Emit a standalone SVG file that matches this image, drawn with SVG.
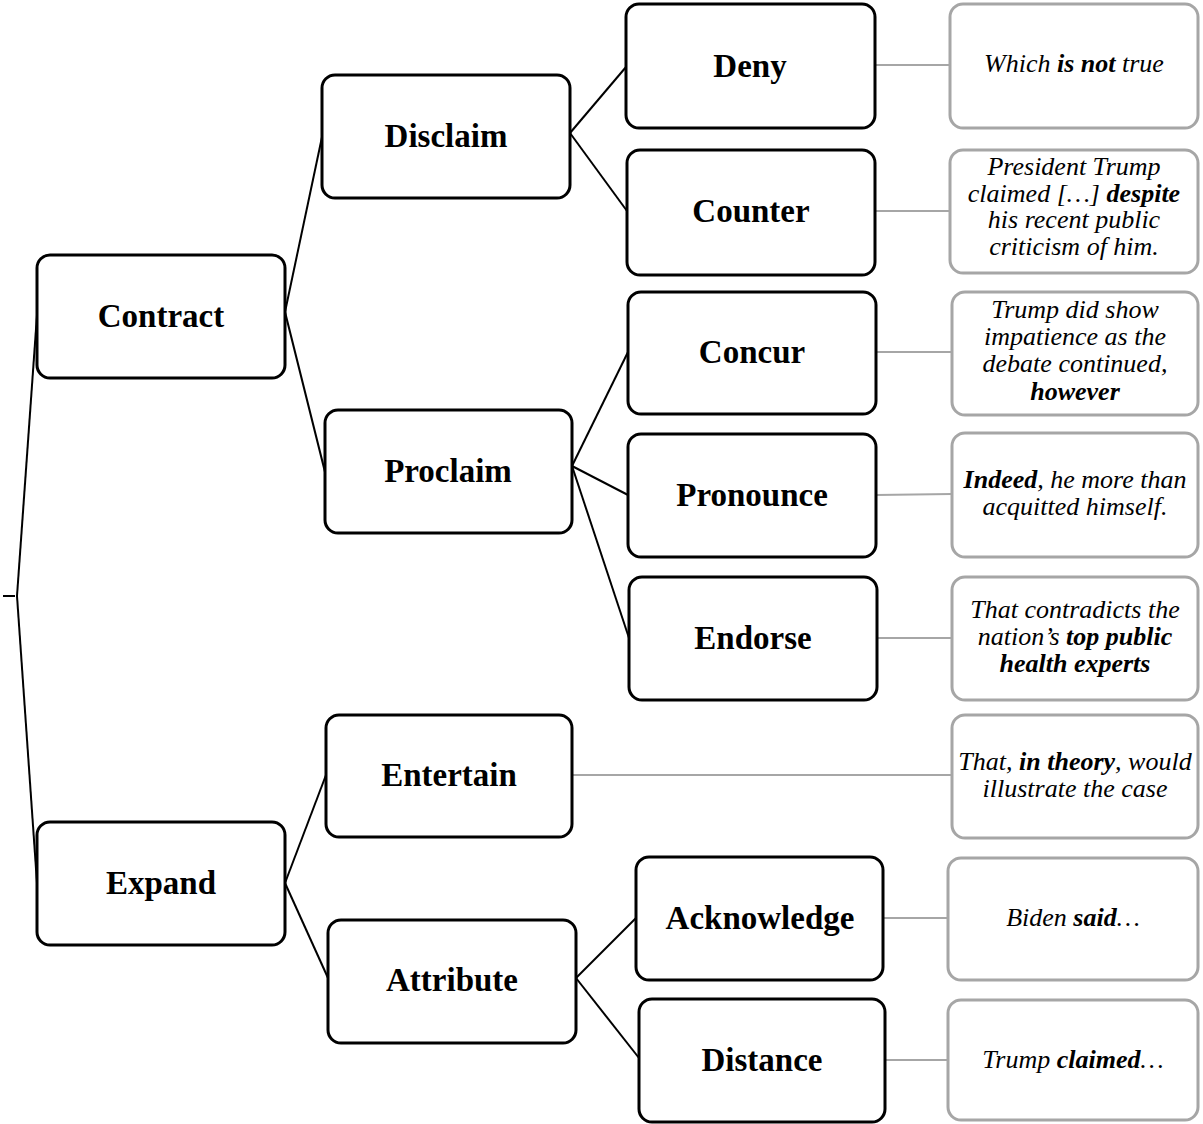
<svg xmlns="http://www.w3.org/2000/svg" width="1203" height="1124" viewBox="0 0 1203 1124">
  <style>
    .node rect { fill: #ffffff; stroke: #000000; stroke-width: 3; }
    .node text { font-family: "Liberation Serif", "Times New Roman", serif; font-weight: bold; font-size: 33px; fill: #000000; text-anchor: middle; }
    .ex rect { fill: #ffffff; stroke: #a6a6a6; stroke-width: 3; }
    .ex text { font-family: "Liberation Serif", "Times New Roman", serif; font-style: italic; font-size: 26px; fill: #000000; text-anchor: middle; }
    .ex tspan.b { font-weight: bold; }
    .tree line { stroke: #000000; stroke-width: 2; }
    .links line { stroke: #a6a6a6; stroke-width: 2; }
  </style>

  <!-- tree connectors -->
  <g id="connectors">
    <g class="tree">
      <line x1="3" y1="596" x2="15" y2="596"/>
      <line x1="17" y1="596" x2="37" y2="315"/>
      <line x1="17" y1="596" x2="37" y2="883"/>
      <line x1="285" y1="312" x2="322" y2="137"/>
      <line x1="285" y1="312" x2="325" y2="472"/>
      <line x1="570" y1="133" x2="626" y2="67"/>
      <line x1="570" y1="133" x2="627" y2="211"/>
      <line x1="572" y1="466" x2="628" y2="352"/>
      <line x1="572" y1="466" x2="628" y2="495"/>
      <line x1="572" y1="466" x2="629" y2="638"/>
      <line x1="285" y1="883" x2="326" y2="775"/>
      <line x1="285" y1="883" x2="328" y2="978"/>
      <line x1="576" y1="978" x2="636" y2="918"/>
      <line x1="576" y1="978" x2="639" y2="1058"/>
    </g>
    <g class="links">
      <line x1="875" y1="65" x2="950" y2="65"/>
      <line x1="875" y1="211" x2="950" y2="211"/>
      <line x1="876" y1="352" x2="952" y2="352"/>
      <line x1="876" y1="495" x2="952" y2="494"/>
      <line x1="877" y1="638" x2="952" y2="638"/>
      <line x1="572" y1="775" x2="952" y2="775"/>
      <line x1="883" y1="918" x2="948" y2="918"/>
      <line x1="885" y1="1060" x2="948" y2="1060"/>
    </g>
  </g>

  <!-- category nodes -->
  <g id="contract" class="node"><rect x="37" y="255" width="248" height="123" rx="13"/><text x="161" y="327">Contract</text></g>
  <g id="expand" class="node"><rect x="37" y="822" width="248" height="123" rx="13"/><text x="161" y="894">Expand</text></g>
  <g id="disclaim" class="node"><rect x="322" y="75" width="248" height="123" rx="13"/><text x="446" y="147">Disclaim</text></g>
  <g id="proclaim" class="node"><rect x="325" y="410" width="247" height="123" rx="13"/><text x="448" y="482">Proclaim</text></g>
  <g id="entertain" class="node"><rect x="326" y="715" width="246" height="122" rx="13"/><text x="449" y="786">Entertain</text></g>
  <g id="attribute" class="node"><rect x="328" y="920" width="248" height="123" rx="13"/><text x="452" y="991">Attribute</text></g>
  <g id="deny" class="node"><rect x="626" y="4" width="249" height="124" rx="13"/><text x="750" y="77">Deny</text></g>
  <g id="counter" class="node"><rect x="627" y="150" width="248" height="125" rx="13"/><text x="751" y="222">Counter</text></g>
  <g id="concur" class="node"><rect x="628" y="292" width="248" height="122" rx="13"/><text x="752" y="363">Concur</text></g>
  <g id="pronounce" class="node"><rect x="628" y="434" width="248" height="123" rx="13"/><text x="752" y="506">Pronounce</text></g>
  <g id="endorse" class="node"><rect x="629" y="577" width="248" height="123" rx="13"/><text x="753" y="649">Endorse</text></g>
  <g id="acknowledge" class="node"><rect x="636" y="857" width="247" height="123" rx="13"/><text x="760" y="929">Acknowledge</text></g>
  <g id="distance" class="node"><rect x="639" y="999" width="246" height="123" rx="13"/><text x="762" y="1071">Distance</text></g>

  <!-- example boxes -->
  <g id="ex-deny" class="ex"><rect x="950" y="4" width="248" height="124" rx="13"/>
    <text x="1074" y="72">Which <tspan class="b">is not</tspan> true</text></g>
  <g id="ex-counter" class="ex"><rect x="950" y="150" width="248" height="123" rx="13"/>
    <text x="1074" y="175">President Trump</text>
    <text x="1074" y="202">claimed […] <tspan class="b">despite</tspan></text>
    <text x="1074" y="228">his recent public</text>
    <text x="1074" y="255">criticism of him.</text></g>
  <g id="ex-concur" class="ex"><rect x="952" y="292" width="246" height="123" rx="13"/>
    <text x="1075" y="318">Trump did show</text>
    <text x="1075" y="345">impatience as the</text>
    <text x="1075" y="372">debate continued,</text>
    <text x="1075" y="400"><tspan class="b">however</tspan></text></g>
  <g id="ex-pronounce" class="ex"><rect x="952" y="433" width="246" height="124" rx="13"/>
    <text x="1075" y="488"><tspan class="b">Indeed</tspan>, he more than</text>
    <text x="1075" y="515">acquitted himself.</text></g>
  <g id="ex-endorse" class="ex"><rect x="952" y="577" width="246" height="123" rx="13"/>
    <text x="1075" y="618">That contradicts the</text>
    <text x="1075" y="645">nation’s <tspan class="b">top public</tspan></text>
    <text x="1075" y="672"><tspan class="b">health experts</tspan></text></g>
  <g id="ex-entertain" class="ex"><rect x="952" y="715" width="246" height="123" rx="13"/>
    <text x="1075" y="770">That, <tspan class="b">in theory</tspan>, would</text>
    <text x="1075" y="797">illustrate the case</text></g>
  <g id="ex-acknowledge" class="ex"><rect x="948" y="858" width="250" height="122" rx="13"/>
    <text x="1073" y="926">Biden <tspan class="b">said</tspan>…</text></g>
  <g id="ex-distance" class="ex"><rect x="948" y="1000" width="250" height="120" rx="13"/>
    <text x="1073" y="1068">Trump <tspan class="b">claimed</tspan>…</text></g>
</svg>
